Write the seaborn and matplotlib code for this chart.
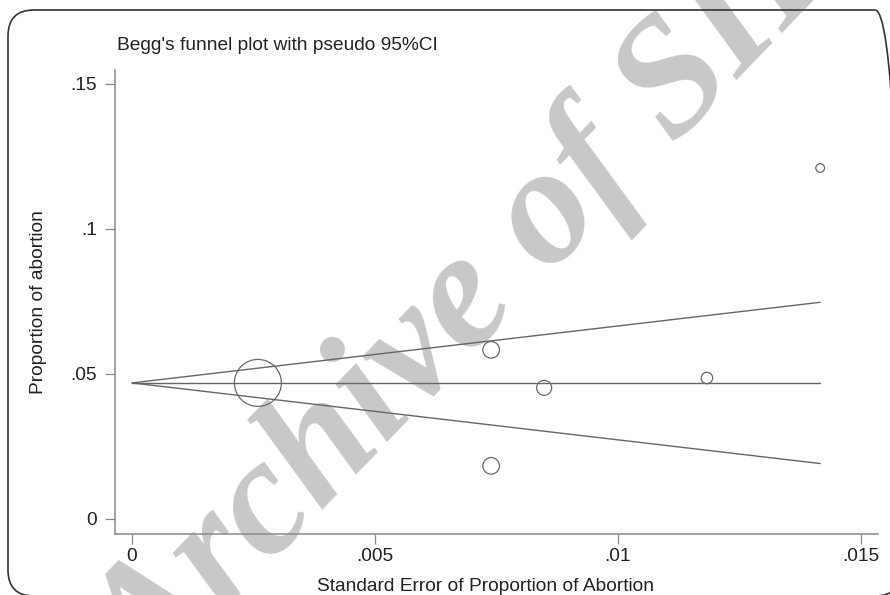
import matplotlib
matplotlib.use("Agg")
import matplotlib.pyplot as plt
import seaborn as sns
import pandas as pd
from matplotlib.patches import FancyBboxPatch
from matplotlib.transforms import IdentityTransform

# ---- data ----
se = [0.00259, 0.00739, 0.00739, 0.00848, 0.01183, 0.01416]
prop = [0.0469, 0.0583, 0.0183, 0.0452, 0.0486, 0.1210]
weight = [100, 12.5, 12.5, 10.2, 5.9, 3.4]   # relative study weight (marker area)

line_se = [0.0, 0.01416]
pooled = [0.0469, 0.0469]
upper = [0.0469, 0.0747]
lower = [0.0469, 0.0191]

xticks = [0, 0.005, 0.01, 0.015]
xticklabels = ["0", ".005", ".01", ".015"]
yticks = [0, 0.05, 0.1, 0.15]
yticklabels = ["0", ".05", ".1", ".15"]

title = "Begg's funnel plot with pseudo 95%CI"
xlabel = "Standard Error of Proportion of Abortion"
ylabel = "Proportion of abortion"
watermark = "Archive of SID"

df = pd.DataFrame({"se": se, "prop": prop, "weight": weight})
lines = pd.DataFrame({"se": line_se, "pooled": pooled, "upper": upper, "lower": lower})

sns.set_theme(style="white")
plt.rcParams["font.family"] = ["Liberation Sans", "DejaVu Sans"]

W, H = 890, 595
fig = plt.figure(figsize=(W / 100, H / 100), dpi=100)
fig.patch.set_facecolor("white")

ax = fig.add_axes([115 / W, 1 - 534 / H, (878 - 115) / W, (534 - 70) / H])
ax.patch.set_alpha(0)

# watermark behind everything
fig.text(480 / W, 1 - 296 / H, watermark, fontsize=120, family="Liberation Serif",
         weight="bold", style="italic", color="#c8c8c8", rotation=46,
         rotation_mode="anchor", ha="center", va="center", zorder=-5)

line_col = "#666666"
for col in ["pooled", "upper", "lower"]:
    sns.lineplot(data=lines, x="se", y=col, ax=ax, color=line_col, lw=1.0, zorder=2)

max_area = (2 * 23.5 * 0.72) ** 2
sns.scatterplot(data=df, x="se", y="prop", size="weight", sizes=(0, max_area),
                size_norm=(0, 100), ax=ax, legend=False, facecolor="none",
                edgecolor="#6a6a6a", linewidth=0.9, zorder=3)

ax.set_xlim(-0.00035, 0.01535)
ax.set_ylim(-0.0052, 0.1548)
ax.set_xticks(xticks)
ax.set_xticklabels(xticklabels)
ax.set_yticks(yticks)
ax.set_yticklabels(yticklabels)

for s in ["top", "right"]:
    ax.spines[s].set_visible(False)
for s in ["left", "bottom"]:
    ax.spines[s].set_color("#8a8a8a")
    ax.spines[s].set_linewidth(1.1)

ax.tick_params(axis="both", which="major", direction="out", length=7, width=0.9,
               color="#8a8a8a", labelsize=13.8, labelcolor="#222222")
ax.tick_params(axis="y", pad=6, left=True)
ax.tick_params(axis="x", pad=3, bottom=True)

ax.set_xlabel(xlabel, fontsize=13.8, color="#222222", labelpad=3)
ax.set_ylabel(ylabel, fontsize=13.8, color="#222222", labelpad=10)
ax.yaxis.set_label_coords(-68 / (878 - 115), 0.5)
ax.xaxis.set_label_coords(0.485, -44 / (534 - 70))

fig.text(117 / W, 1 - 50 / H, title, fontsize=13.8, color="#222222",
         ha="left", va="baseline")

# rounded frame
frame = FancyBboxPatch((8, -1), 893, 586, boxstyle="round,pad=0,rounding_size=26",
                       transform=IdentityTransform(), fill=False, edgecolor="#333333",
                       linewidth=1.2, clip_on=False, zorder=10)
fig.patches.append(frame)

fig.savefig("out.png", dpi=100)
